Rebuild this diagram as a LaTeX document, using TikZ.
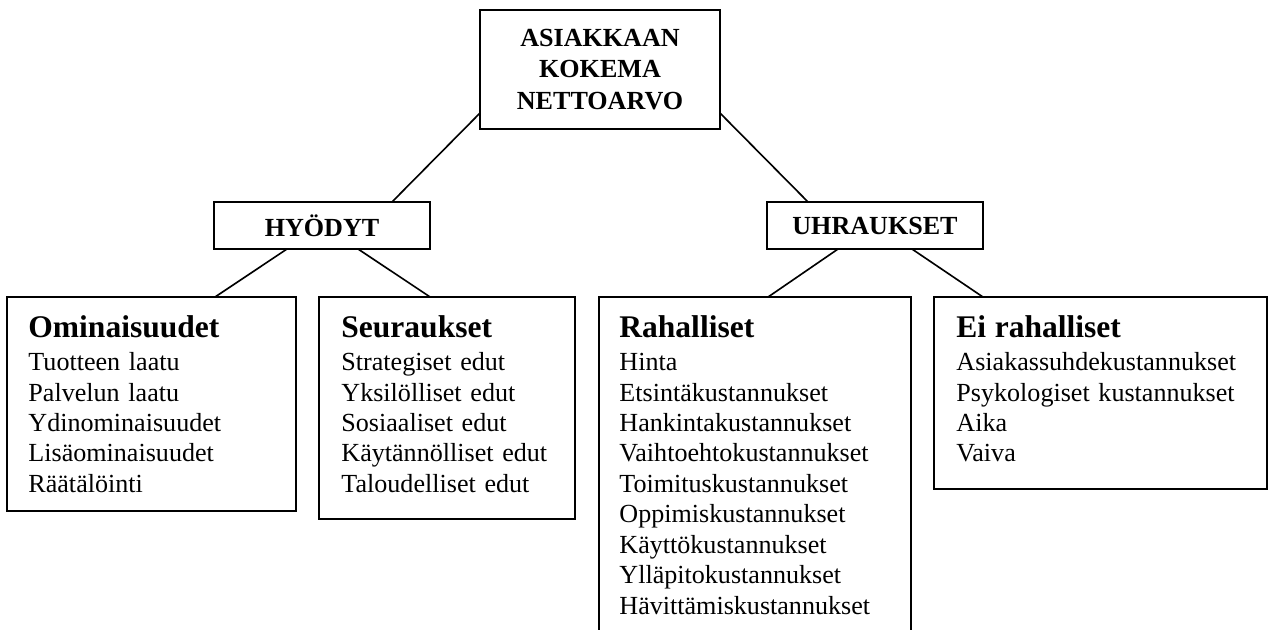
\documentclass[tikz,border=0pt]{standalone}
\usepackage{fontspec}
\setmainfont{Liberation Serif}
\usetikzlibrary{calc}
\newcommand{\pxu}{0.46pt}
\newcommand{\otsikko}[1]{{\fontsize{14.5}{17}\selectfont\bfseries #1}\\[1pt]}

\begin{document}
\begin{tikzpicture}[x=0.46pt, y=-0.46pt,
    headbox/.style={draw, line width=0.9pt, inner sep=0pt, outer sep=0pt, align=center,
        font=\fontsize{12}{14.3}\selectfont\bfseries},
    listbox/.style={draw, line width=0.9pt, inner sep=0pt, outer sep=0pt, anchor=north west},
    listtext/.style={anchor=base west, inner sep=0pt, text width=140pt, align=left,
        font=\fontsize{12}{14}\selectfont},
    link/.style={line width=0.75pt}]
    \useasboundingbox (0,0) rectangle (1270,630);
    \clip (0,0) rectangle (1270,630);

    % ylin taso
    \node[headbox, minimum width=240*\pxu, minimum height=119*\pxu] (nettoarvo) at (600,69.5)
        {ASIAKKAAN\\KOKEMA\\NETTOARVO};
    \node[headbox, minimum width=216*\pxu, minimum height=47*\pxu] (hyodyt) at (322,225.5) {HYÖDYT};
    \node[headbox, minimum width=216*\pxu, minimum height=47*\pxu] (uhraukset) at (875,225.5) {UHRAUKSET};

    % laatikot
    \node[listbox, minimum width=289*\pxu, minimum height=214*\pxu] (ominaisuudet) at (7,297) {};
    \node[listbox, minimum width=256*\pxu, minimum height=222*\pxu] (seuraukset) at (319,297) {};
    \node[listbox, minimum width=312*\pxu, minimum height=400*\pxu] (rahalliset) at (599,297) {};
    \node[listbox, minimum width=333*\pxu, minimum height=192*\pxu] (eirahalliset) at (934,297) {};

    \node[listtext] (ominaisuudetTxt) at ($(ominaisuudet.north west)+(21,41)$)
        {\otsikko{Ominaisuudet}Tuotteen laatu\\Palvelun laatu\\Ydinominaisuudet\\Lisäominaisuudet\\Räätälöinti};
    \node[listtext] (seurauksetTxt) at ($(seuraukset.north west)+(22,41)$)
        {\otsikko{Seuraukset}Strategiset edut\\Yksilölliset edut\\Sosiaaliset edut\\Käytännölliset edut\\Taloudelliset edut};
    \node[listtext] (rahallisetTxt) at ($(rahalliset.north west)+(20,41)$)
        {\otsikko{Rahalliset}Hinta\\Etsintäkustannukset\\Hankintakustannukset\\Vaihtoehtokustannukset\\Toimituskustannukset\\Oppimiskustannukset\\Käyttökustannukset\\Ylläpitokustannukset\\Hävittämiskustannukset};
    \node[listtext] (eirahallisetTxt) at ($(eirahalliset.north west)+(22,41)$)
        {\otsikko{Ei rahalliset}Asiakassuhdekustannukset\\Psykologiset kustannukset\\Aika\\Vaiva};

    % yhdysviivat
    \draw[link] ($(nettoarvo.north west)!0.866!(nettoarvo.south west)$) -- ($(hyodyt.north west)!0.824!(hyodyt.north east)$);
    \draw[link] ($(nettoarvo.north east)!0.866!(nettoarvo.south east)$) -- ($(uhraukset.north west)!0.19!(uhraukset.north east)$);
    \draw[link] ($(hyodyt.south west)!0.338!(hyodyt.south east)$) -- ($(ominaisuudet.north west)!0.72!(ominaisuudet.north east)$);
    \draw[link] ($(hyodyt.south west)!0.667!(hyodyt.south east)$) -- ($(seuraukset.north west)!0.434!(seuraukset.north east)$);
    \draw[link] ($(uhraukset.south west)!0.329!(uhraukset.south east)$) -- ($(rahalliset.north west)!0.542!(rahalliset.north east)$);
    \draw[link] ($(uhraukset.south west)!0.671!(uhraukset.south east)$) -- ($(eirahalliset.north west)!0.147!(eirahalliset.north east)$);
\end{tikzpicture}
\end{document}
